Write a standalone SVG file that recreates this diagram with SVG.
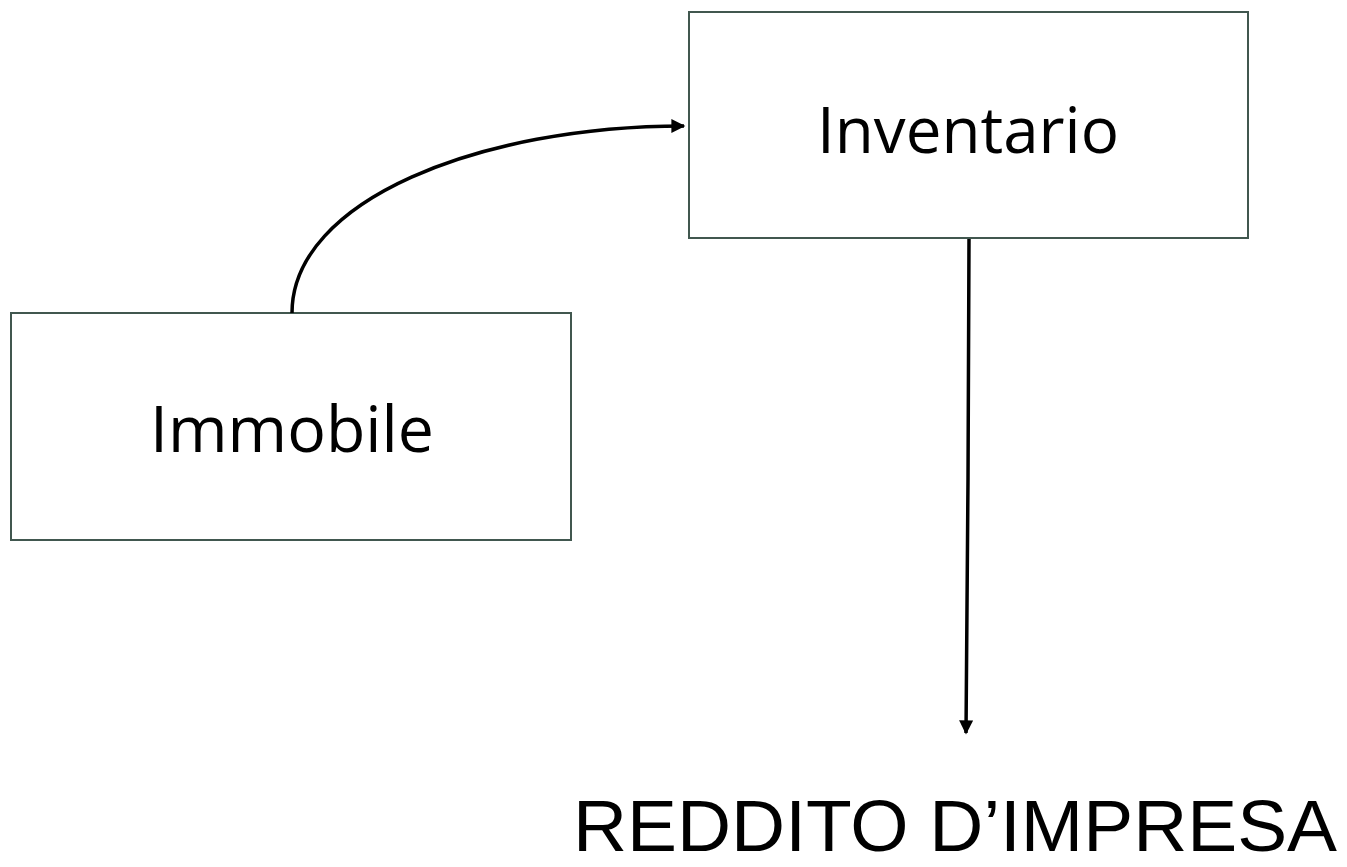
<svg xmlns="http://www.w3.org/2000/svg" width="1347" height="867" viewBox="0 0 1347 867">
<style>
.box{fill:#ffffff;stroke:#41574f;stroke-width:2}
.lbl{font-family:"Open Sans","Noto Sans",sans-serif;font-size:64px;fill:#000}
.conn{fill:none;stroke:#000;stroke-width:3.5}
</style>
<defs>
<marker id="ah" viewBox="0 0 10 10" refX="9" refY="5" markerWidth="4.2" markerHeight="4" orient="auto" markerUnits="strokeWidth">
<path d="M0,0 L10,5 L0,10 z" fill="#000"/>
</marker>
</defs>
<rect width="1347" height="867" fill="#ffffff"/>
<g id="inventario">
<rect class="box" x="689" y="12" width="559" height="226"/>
<text class="lbl" x="968" y="153" text-anchor="middle" textLength="302" lengthAdjust="spacingAndGlyphs">Inventario</text>
</g>
<g id="immobile">
<rect class="box" x="11" y="313" width="560" height="227"/>
<text class="lbl" x="292" y="452" text-anchor="middle" textLength="284" lengthAdjust="spacingAndGlyphs">Immobile</text>
</g>
<g id="reddito">
<text x="955" y="851" text-anchor="middle" font-family="Liberation Sans, Arial, sans-serif" font-size="72" fill="#000" textLength="764" lengthAdjust="spacingAndGlyphs">REDDITO D’IMPRESA</text>
</g>
<g id="connectors">
<path class="conn" d="M292,313 C292,200 480,126 684,126" marker-end="url(#ah)"/>
<path class="conn" d="M969,239 L968,480 L966,733" marker-end="url(#ah)"/>
</g>
</svg>
